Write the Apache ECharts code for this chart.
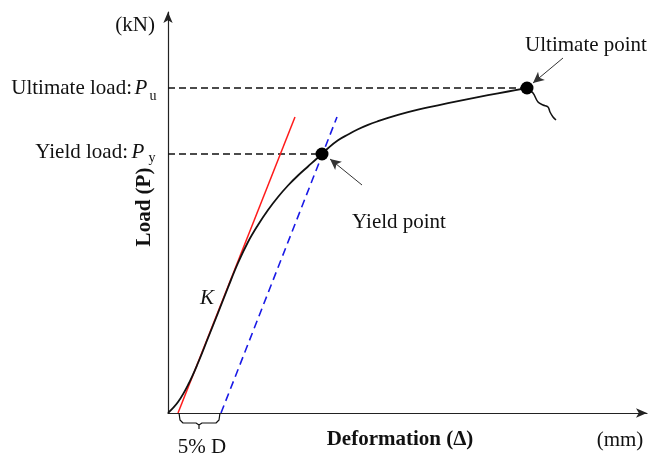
<!DOCTYPE html>
<html>
<head>
<meta charset="utf-8">
<script src="https://cdn.jsdelivr.net/npm/echarts@6/dist/echarts.min.js"></script>
<style>html,body{margin:0;padding:0;background:#fff}#c{width:649px;height:456px}</style>
</head>
<body>
<div id="c"></div>
<script>
// Schematic load–deformation curve (units: arbitrary)
var loadCurve = [[0,0],[10,11],[20,28],[30,50],[40,75],[50,100],[60,125.5],[70,150],[80,171],[90,188],[100,203],[110,216],[120,227.5],[130,237.5],[140,246.5],[150,255.5],[160,264.8],[170,272.8],[180,278.5],[190,283.7],[200,288.1],[210,291.8],[220,295.1],[230,298.1],[240,300.8],[250,303.3],[260,305.6],[280,309.8],[300,313.9],[320,317.8],[340,321.5],[359,325]];
var failureTail = [[359,325],[365,320],[370,311],[375,308],[380,306],[382,301],[385,296],[388,293]];
var stiffnessLine = [[10,0],[127,296]];
var offsetLine = [[53,0],[169,296]];
var yieldPoint = [154,259];
var ultimatePoint = [359,325];
var Py = 259, Pu = 325;
var bracket5D = [[11,0],[12,-7],[15,-10],[28,-10],[31,-12],[31,-16],[31,-12],[34,-10],[48,-10],[51,-7],[52,0]];
var yieldArrow = [[194,228],[162,254]];
var ultimateArrow = [[395,355],[365,330]];

var chart = echarts.init(document.getElementById('c'));
function txt(x,y,text,opt){
  var s = Object.assign({text:text, x:x, y:y, fill:'#111', font:'21px "Liberation Serif"', textAlign:'center', textVerticalAlign:'middle'}, opt||{});
  return {type:'text', style:s, z:100};
}
var option = {
  animation:false,
  backgroundColor:'#fff',
  grid:{left:168, right:2, top:12, bottom:43},
  xAxis:{type:'value', min:0, max:479, axisLabel:{show:false}, axisTick:{show:false}, splitLine:{show:false},
    axisLine:{symbol:['none','arrow'], symbolSize:[7,11], lineStyle:{color:'#222', width:1.2}}},
  yAxis:{type:'value', min:0, max:401, axisLabel:{show:false}, axisTick:{show:false}, splitLine:{show:false},
    axisLine:{symbol:['none','arrow'], symbolSize:[7,11], lineStyle:{color:'#222', width:1.2}}},
  series:[
    {type:'line', data:[[0,Pu],ultimatePoint], symbol:'none', lineStyle:{color:'#111', width:1.5, type:[7,4]}},
    {type:'line', data:[[0,Py],yieldPoint], symbol:'none', lineStyle:{color:'#111', width:1.5, type:[7,4]}},
    {type:'line', data:stiffnessLine, symbol:'none', lineStyle:{color:'#ff1a1a', width:1.5}},
    {type:'line', data:offsetLine, symbol:'none', lineStyle:{color:'#1a1ae6', width:1.6, type:[8,5]}},
    {type:'line', data:loadCurve, symbol:'none', smooth:0.4, lineStyle:{color:'#111', width:1.8}},
    {type:'line', data:failureTail, symbol:'none', smooth:0.4, lineStyle:{color:'#111', width:1.5}},
    {type:'line', data:bracket5D, symbol:'none', clip:false, lineStyle:{color:'#111', width:1.2}},
    {type:'scatter', data:[yieldPoint, ultimatePoint], symbolSize:13, itemStyle:{color:'#000', opacity:1}, z:5},
    {type:'line', data:[], markLine:{silent:true, symbol:['none','arrow'], symbolSize:[8,11], label:{show:false},
      lineStyle:{color:'#333', width:1, type:'solid'},
      data:[[{coord:yieldArrow[0]},{coord:yieldArrow[1]}],[{coord:ultimateArrow[0]},{coord:ultimateArrow[1]}]]}}
  ],
  graphic:[
    txt(155,25,'(kN)',{textAlign:'right'}),
    txt(132,88,'Ultimate load:',{textAlign:'right'}),
    txt(141,88,'P',{font:'italic 21px "Liberation Serif"'}),
    txt(153,96,'u',{font:'14px "Liberation Serif"'}),
    txt(128,152,'Yield load:',{textAlign:'right'}),
    txt(138,152,'P',{font:'italic 21px "Liberation Serif"'}),
    txt(152,158,'y',{font:'14px "Liberation Serif"'}),
    txt(399,222,'Yield point'),
    txt(586,45,'Ultimate point'),
    txt(207,298,'K',{font:'italic 21px "Liberation Serif"'}),
    txt(400,440,'Deformation (Δ)',{font:'bold 21px "Liberation Serif"'}),
    txt(620,440,'(mm)'),
    txt(202,447,'5% D'),
    {type:'text', x:145, y:207, rotation:Math.PI/2, z:100, style:{text:'Load (P)', x:0, y:0, fill:'#111', font:'bold 21px "Liberation Serif"', textAlign:'center', textVerticalAlign:'middle'}}
  ]
};
chart.setOption(option);
</script>
</body>
</html>
